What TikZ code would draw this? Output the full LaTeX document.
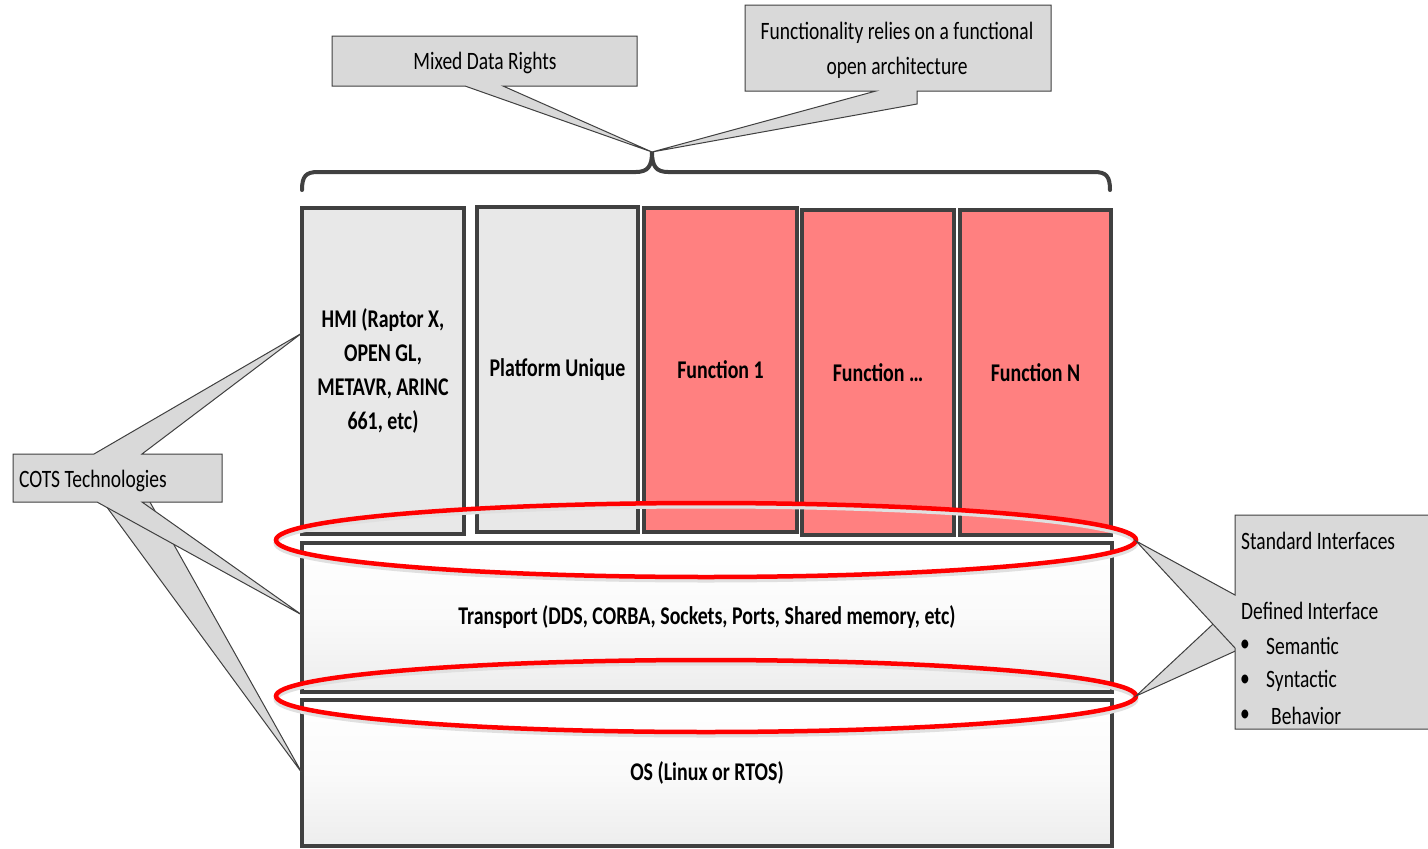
\documentclass[tikz,border=0pt]{standalone}
\usepackage{fontspec}
\setmainfont{Carlito}[FakeStretch=0.78]
\definecolor{edgegray}{HTML}{404040}
\definecolor{lightbox}{HTML}{E8E8E8}
\definecolor{funcred}{HTML}{FF8080}
\definecolor{callgray}{HTML}{D9D9D9}
\definecolor{ringred}{HTML}{FF0000}
\begin{document}
\begin{tikzpicture}[x=1pt,y=-1pt,
  box/.style={draw=edgegray,line width=3.5pt,inner sep=0pt,outer sep=0pt,align=center,
    font=\fontsize{25.5}{34}\selectfont\bfseries},
  greybox/.style={box,fill=lightbox},
  funcbox/.style={box,fill=funcred},
  layerbox/.style={box,top color=white,bottom color=black!7,middle color=black!2},
  callout/.style={fill=callgray,draw=edgegray,line width=1pt,line join=miter},
  lbl/.style={inner sep=0pt,font=\fontsize{25}{35}\selectfont,align=center},
  ring/.style={draw=ringred,line width=4.5pt},
  ringshadow/.style={draw=black!12,line width=5pt}]
\path[fill=white] (0,0) rectangle (1428,849);
\clip (0,0) rectangle (1428,849);

% stacked boxes
\node[greybox,minimum width=162pt,minimum height=326pt] (hmi) at (383,371)
  {HMI (Raptor X,\\OPEN GL,\\METAVR, ARINC\\661, etc)};
\node[greybox,minimum width=161pt,minimum height=325pt] (plat) at (557.5,369.5) {Platform Unique};
\node[funcbox,minimum width=153pt,minimum height=324pt] (f1) at (720.5,370) {Function 1};
\node[funcbox,minimum width=152pt,minimum height=325pt] (fd) at (878,372.5) {Function \dots};
\node[funcbox,minimum width=151pt,minimum height=325pt] (fn) at (1035.5,372.5) {Function N};
\node[layerbox,minimum width=810pt,minimum height=149pt] (trans) at (707,617.5)
  {Transport (DDS, CORBA, Sockets, Ports, Shared memory, etc)};
\node[layerbox,minimum width=810pt,minimum height=146pt] (os) at (707,773) {OS (Linux or RTOS)};

% brace
\coordinate (bracetip) at (652,152);
\draw[edgegray,line width=4pt,line cap=round]
  (302,190) .. controls (302,176) and (306,172) .. (318,172) -- (636,172)
  .. controls (648,172) and (652,166) .. (bracetip)
  .. controls (652,166) and (656,172) .. (668,172) -- (1094,172)
  .. controls (1106,172) and (1110,176) .. (1110,190);

% interface rings
\coordinate (ringA) at (706,540);
\coordinate (ringB) at (706,696);
\draw[ringshadow] ([yshift=-3pt]ringA) ellipse [x radius=430pt, y radius=37pt];
\draw[ringshadow] ([yshift=-3pt]ringB) ellipse [x radius=430pt, y radius=36pt];
\draw[ring] (ringA) ellipse [x radius=430pt, y radius=37pt];
\draw[ring] (ringB) ellipse [x radius=430pt, y radius=36pt];
\coordinate (ringAend) at (1136,541);
\coordinate (ringBend) at (1136,696);

% top callouts
\draw[callout] (332,36) -- (637,36) -- (637,86) -- (503,86) -- (bracetip) -- (465,86) -- (332,86) -- cycle;
\node[lbl] (mdr) at (485,63) {Mixed Data Rights};
\draw[callout] (745,5) -- (1051,5) -- (1051,91) -- (917,91) -- (917,104) -- (bracetip) -- (876,91) -- (745,91) -- cycle;
\node[lbl] (foa) at (897,50) {Functionality relies on a functional\\open architecture};

% COTS callout
\coordinate (hmitip) at (302,333);
\coordinate (transtip) at (302,615);
\coordinate (ostip) at (302,773);
\draw[callout] (98,495) -- (ostip) -- (146,495) -- cycle;
\draw[callout] (13,454) -- (94,454) -- (hmitip) -- (142,454) -- (222,454) -- (222,502)
  -- (142,502) -- (transtip) -- (97,502) -- (13,502) -- cycle;
\node[lbl,anchor=west] (cots) at (19,481) {COTS Technologies};

% Standard interfaces callout
\draw[callout] (ringBend) -- (1242,597) -- (1242,648) -- cycle;
\draw[callout] (1235,515) -- (1440,515) -- (1440,729) -- (1235,729) -- (1235,648) -- (ringAend) -- (1235,595) -- cycle;
\node[lbl,anchor=west] (si) at (1241,541) {Standard Interfaces};
\node[lbl,anchor=west] (di) at (1241,611) {Defined Interface};
\node[lbl,anchor=west] (b1) at (1240,646) {•};
\node[lbl,anchor=west] (s1) at (1266,646) {Semantic};
\node[lbl,anchor=west] (b2) at (1240,681) {•};
\node[lbl,anchor=west] (s2) at (1266,681) {Syntactic};
\node[lbl,anchor=west] (b3) at (1240,716) {•};
\node[lbl,anchor=west] (s3) at (1271,716) {Behavior};
\end{tikzpicture}
\end{document}
